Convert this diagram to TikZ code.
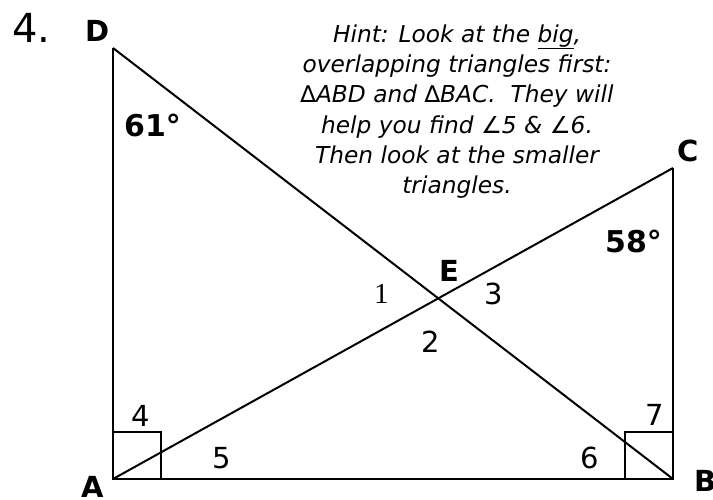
\documentclass[tikz,border=0pt]{standalone}
\usepackage{fontspec}
\setmainfont{DejaVu Sans}
\newfontfamily\timesfont{Liberation Serif}
\usetikzlibrary{positioning}

\begin{document}
\begin{tikzpicture}[x=1pt, y=-1pt,
        vertex/.style={font=\fontsize{29}{29}\selectfont\bfseries, inner sep=0pt, anchor=base west},
        given/.style={font=\fontsize{30}{30}\selectfont\bfseries, inner sep=0pt, anchor=base west},
        angnum/.style={font=\fontsize{29}{29}\selectfont, inner sep=0pt, anchor=base west},
        hint/.style={font=\fontsize{23.3}{30.3}\selectfont\itshape, inner sep=0pt, align=center, anchor=north},
        side/.style={draw=black, line width=2pt, line join=miter},
        corner/.style={draw=black, line width=1.8pt}
    ]
        \useasboundingbox (0,0) rectangle (713,500);

        % points of the figure
        \coordinate (A) at (113,479);
        \coordinate (B) at (673,479);
        \coordinate (C) at (673,168);
        \coordinate (D) at (113,48);
        \coordinate (E) at (intersection of A--C and D--B);

        \draw [side] (D) -- (A) -- (B) -- (C);
        \draw [side] (A) -- (C);
        \draw [side] (D) -- (B);

        % right angles
        \draw [corner] (A) rectangle ++(48,-47);
        \draw [corner] (B) rectangle ++(-48,-47);

        \node [font=\fontsize{40}{40}\selectfont, inner sep=0pt, anchor=base west] (num) at (12,43) {4.};
        \node [vertex] (labD) at (85,42) {D};
        \node [vertex] (labC) at (677,162) {C};
        \node [vertex] (labE) at (439,281) {E};
        \node [vertex] (labA) at (81,497) {A};
        \node [vertex] (labB) at (694,491) {B};

        \node [given] (ang61) at (124,137) {61°};
        \node [given] (ang58) at (605,252) {58°};

        \node [angnum, font=\fontsize{29}{29}\selectfont\timesfont] (a1) at (374,303) {1};
        \node [angnum] (a2) at (421,352) {2};
        \node [angnum] (a3) at (484,305) {3};
        \node [angnum] (a4) at (131,426) {4};
        \node [angnum] (a5) at (212,468) {5};
        \node [angnum] (a6) at (580,468) {6};
        \node [angnum] (a7) at (645,425) {7};

        \node [hint] (note) at (457,24.3) {Hint: Look at the \underline{big},\\
            overlapping triangles first:\\
            ∆ABD and ∆BAC.\ \ They will\\
            help you find ∠5 \& ∠6.\\
            Then look at the smaller\\
            triangles.};
    \end{tikzpicture}
\end{document}
